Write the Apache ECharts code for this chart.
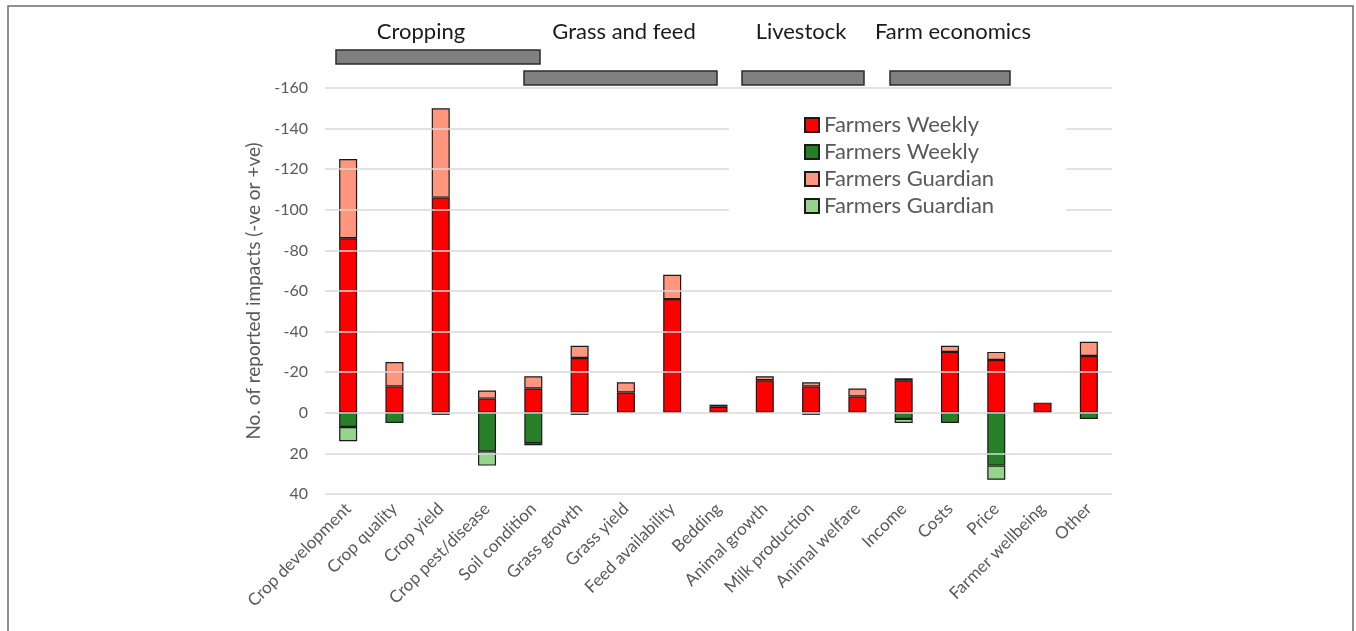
<!DOCTYPE html>
<html>
<head>
<meta charset="utf-8">
<script src="https://cdn.jsdelivr.net/npm/echarts@6/dist/echarts.min.js"></script>
<style>
html,body{margin:0;padding:0;background:#fff;}
#chart{width:1356px;height:631px;}
</style>
</head>
<body>
<div id="chart"></div>
<script>
// ---- data (counts) ----
const categories = ['Crop development','Crop quality','Crop yield','Crop pest/disease','Soil condition','Grass growth','Grass yield','Feed availability','Bedding','Animal growth','Milk production','Animal welfare','Income','Costs','Price','Farmer wellbeing','Other'];
// negative impacts (plotted upward, axis inverted)
const weeklyNeg   = [86,13,106,7,12,27,10,56,3,16,13,8,16,30,26,5,28];
const guardianNeg = [39,12,44,4,6,6,5,12,1,2,2,4,1,3,4,0,7];
// positive impacts (plotted downward)
const weeklyPos   = [7,5,1,19,15,1,0,0,0,0,1,0,3,5,26,0,3];
const guardianPos = [7,0,0,7,1,0,0,0,0,0,0,0,2,0,7,0,0];
const yTicks = {min:-160, max:40, interval:20};
const groupLabels = ['Cropping','Grass and feed','Livestock','Farm economics'];

const FONT = 'Lato';
const neg = arr => arr.map(v => v === 0 ? '-' : -v);
const pos = arr => arr.map(v => v === 0 ? '-' : v);

function barSeries(name, data, color){
  return {
    name: name, type: 'bar', stack: 'all', barWidth: 18,
    data: data, z: 2,
    itemStyle: {color: color, borderColor: '#1a1a1a', borderWidth: 1.2},
    emphasis: {disabled: true}
  };
}

const chart = echarts.init(document.getElementById('chart'), null, {renderer:'canvas'});

// group header boxes (layout only)
const groupBoxes = [
  {x:336, y:50, w:204}, {x:524, y:71, w:193}, {x:742, y:71, w:122}, {x:890, y:71, w:120}
];
const groupText = [421, 624, 801, 953];
const graphics = [
  {type:'rect', shape:{x:8, y:6, width:1345, height:700}, style:{fill:'none', stroke:'#6e6e6e', lineWidth:1.5}, silent:true}
];
groupBoxes.forEach(b => graphics.push({type:'rect', shape:{x:b.x, y:b.y, width:b.w, height:14}, style:{fill:'#808080', stroke:'#2b2b2b', lineWidth:1.5}, silent:true}));
groupLabels.forEach((t,i) => graphics.push({type:'text', x:groupText[i], y:32, style:{text:t, fontSize:22, fontFamily:FONT, fill:'#1a1a1a', textAlign:'center', textVerticalAlign:'middle'}, silent:true}));

chart.setOption({
  animation: false,
  backgroundColor: '#fff',
  textStyle: {fontFamily: FONT},
  grid: {left:325, right:244, top:88, bottom:137, containLabel:false},
  legend: {
    orient: 'vertical', left: 729, top: 102,
    padding: [12, 72, 12, 75],
    backgroundColor: '#fff',
    itemWidth: 14, itemHeight: 14, itemGap: 5,
    icon: 'rect',
    selectedMode: false,
    textStyle: {fontSize: 22, color: '#595959', fontFamily: FONT, lineHeight: 21},
    formatter: n => n.replace(/ \(.*\)$/, ''),
    data: ['Farmers Weekly (neg)','Farmers Weekly (pos)','Farmers Guardian (neg)','Farmers Guardian (pos)']
  },
  xAxis: {
    type: 'category', data: categories,
    axisLine: {show:false, onZero:false}, axisTick: {show:false},
    axisLabel: {interval:0, rotate:45, fontSize:17, color:'#595959', margin:12, fontFamily:FONT}
  },
  yAxis: {
    type: 'value', inverse: true, min: yTicks.min, max: yTicks.max, interval: yTicks.interval,
    z: 3,
    name: 'No. of reported impacts (-ve or +ve)', nameLocation: 'middle', nameGap: 55,
    nameTextStyle: {fontSize: 19, color: '#595959', fontFamily: FONT},
    axisLine: {show:false}, axisTick: {show:false},
    axisLabel: {fontSize: 16, color: '#595959', margin: 17, fontFamily: FONT},
    splitLine: {lineStyle: {color: '#d9d9d9', width: 1.5}}
  },
  graphic: graphics,
  series: [
    barSeries('Farmers Weekly (neg)', neg(weeklyNeg), '#ff0000'),
    barSeries('Farmers Weekly (pos)', pos(weeklyPos), '#277f27'),
    barSeries('Farmers Guardian (neg)', neg(guardianNeg), '#ff967d'),
    barSeries('Farmers Guardian (pos)', pos(guardianPos), '#96d48c')
  ]
});
</script>
</body>
</html>
